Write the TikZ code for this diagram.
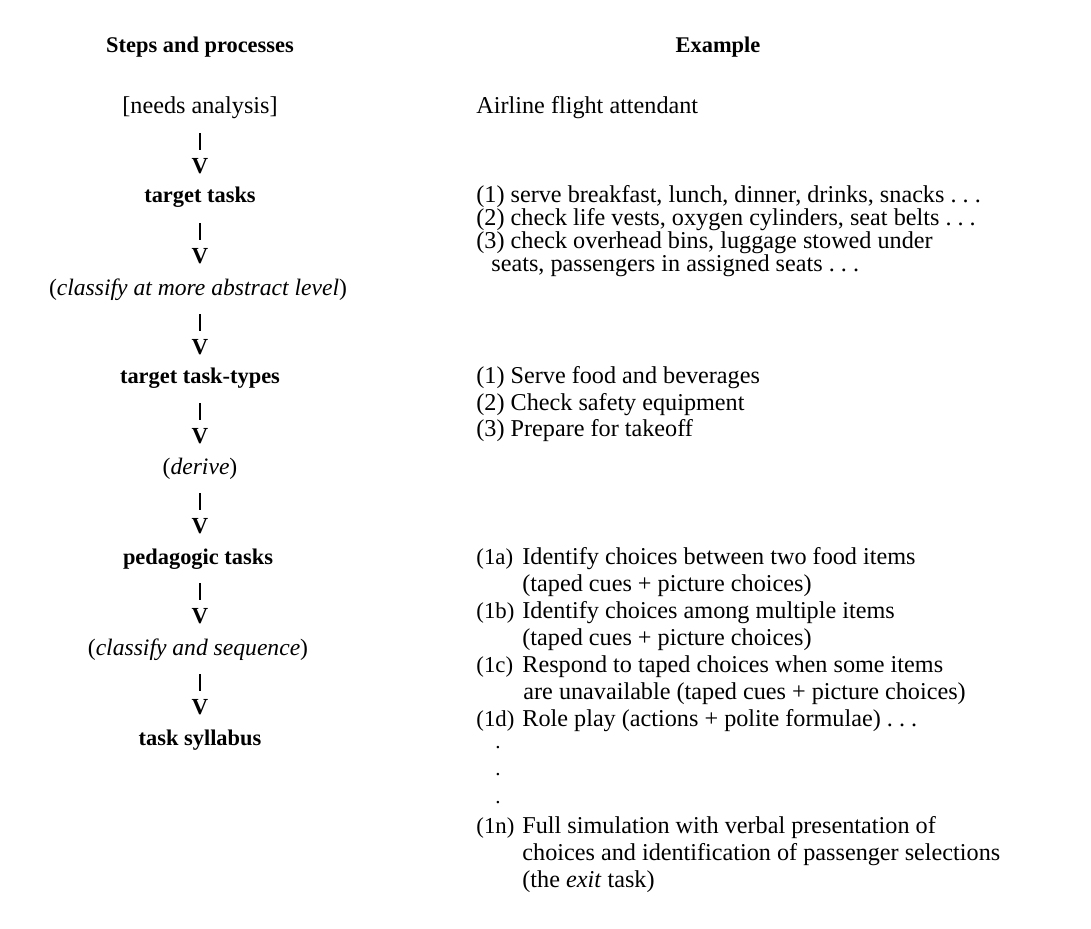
\documentclass[tikz,border=0pt]{standalone}
\usepackage{fontspec}
\setmainfont{Liberation Serif}
\newcommand{\dotsp}{.\ .\ .}

\begin{document}
\begin{tikzpicture}[x=0.5pt,y=-0.5pt,
    font=\fontsize{12.1}{14}\selectfont,
    head/.style={font=\fontsize{11.2}{13}\selectfont\bfseries},
    proc/.style={font=\fontsize{11.2}{13}\selectfont\bfseries},
    act/.style={font=\fontsize{11.8}{14}\selectfont},
    vtip/.style={inner sep=0pt,font=\fontsize{11.5}{13}\selectfont\bfseries},
    bar/.style={line width=0.9pt},
    ex/.style={anchor=west,inner sep=0pt},
    tag/.style={ex,font=\fontsize{11.4}{14}\selectfont},
    ell/.style={inner sep=0pt,font=\fontsize{10.5}{12}\selectfont}]
  \useasboundingbox (0,0) rectangle (1091,928);

  % Column heads
  \node[head] (lhead) at (200,47) {Steps and processes};
  \node[head] (rhead) at (718,47) {Example};

  % Steps and processes
  \node (needs) at (200,108) {[needs analysis]};
  \node[proc] (tt) at (200,197) {target tasks};
  \node[act] (abs) at (198,290) {(\textit{classify at more abstract level})};
  \node[proc] (ttt) at (200,378) {target task-types};
  \node[act] (der) at (200,469) {(\textit{derive})};
  \node[proc] (ped) at (198,559) {pedagogic tasks};
  \node[act] (seq) at (198,650) {(\textit{classify and sequence})};
  \node[proc] (syl) at (200,740) {task syllabus};

  % Bar-and-V connectors
  \foreach \y [count=\i] in {166,256,347,436,526,616,707} {
    \node[vtip] (v\i) at (200,\y) {V};
    \draw[bar] (200,\y-33) -- ++(0,17);
  }

  % Example column
  \node[ex] (air) at (476,108) {Airline flight attendant};

  \node[ex] (t1) at (476,197) {(1) serve breakfast, lunch, dinner, drinks, snacks \dotsp};
  \node[ex] (t2) at (476,220) {(2) check life vests, oxygen cylinders, seat belts \dotsp};
  \node[ex] (t3) at (476,243) {(3) check overhead bins, luggage stowed under};
  \node[ex] (t3b) at (491,266) {seats, passengers in assigned seats \dotsp};

  \node[ex] (ty1) at (476,378) {(1) Serve food and beverages};
  \node[ex] (ty2) at (476,405) {(2) Check safety equipment};
  \node[ex] (ty3) at (476,431) {(3) Prepare for takeoff};

  \node[tag] (p1a) at (476,559) {(1a)};
  \node[ex] (p1at) at (522,559) {Identify choices between two food items};
  \node[ex] (p1ab) at (522,586) {(taped cues + picture choices)};
  \node[tag] (p1b) at (476,613) {(1b)};
  \node[ex] (p1bt) at (522,613) {Identify choices among multiple items};
  \node[ex] (p1bb) at (522,640) {(taped cues + picture choices)};
  \node[tag] (p1c) at (476,667) {(1c)};
  \node[ex] (p1ct) at (522,667) {Respond to taped choices when some items};
  \node[ex] (p1cb) at (523,694) {are unavailable (taped cues + picture choices)};
  \node[tag] (p1d) at (476,721) {(1d)};
  \node[ex] (p1dt) at (522,721) {Role play (actions + polite formulae) \dotsp};
  \foreach \y [count=\i] in {748,775,803}
    \node[ell] (dot\i) at (498,\y) {.};
  \node[tag] (p1n) at (476,828) {(1n)};
  \node[ex] (p1nt) at (522,828) {Full simulation with verbal presentation of};
  \node[ex] (p1nb) at (522,855) {choices and identification of passenger selections};
  \node[ex] (p1nc) at (522,882) {(the \textit{exit} task)};
\end{tikzpicture}
\end{document}
